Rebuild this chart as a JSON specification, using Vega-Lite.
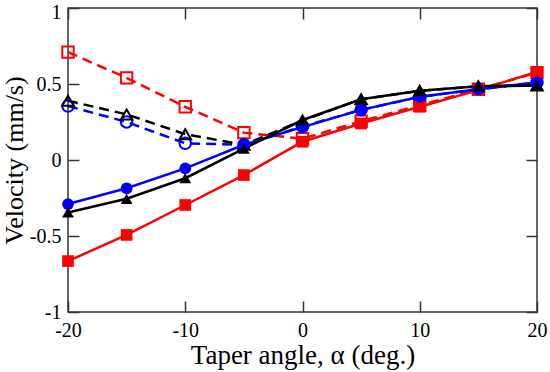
{
  "$schema": "https://vega.github.io/schema/vega-lite/v6.json",
  "width": 469,
  "height": 304,
  "autosize": "none",
  "padding": {"left": 68, "top": 8, "right": 13, "bottom": 60},
  "background": "white",
  "config": {
    "view": {"stroke": "#333", "strokeWidth": 1.5},
    "axis": {
      "labelFont": "Liberation Serif",
      "titleFont": "Liberation Serif",
      "labelColor": "black",
      "titleColor": "black",
      "titleFontWeight": "normal",
      "grid": false,
      "domain": false,
      "tickColor": "#333",
      "tickWidth": 1.5,
      "tickSize": -11,
      "labelFontSize": 20,
      "titleFontSize": 27,
      "labelFlush": false,
      "labelOverlap": false,
      "labelExpr": "datum.value + ''"
    }
  },
  "data": {
    "values": [
      {"a": -20, "v": 0.71, "s": "rd"},
      {"a": -15, "v": 0.54, "s": "rd"},
      {"a": -10, "v": 0.35, "s": "rd"},
      {"a": -5, "v": 0.18, "s": "rd"},
      {"a": 0, "v": 0.14, "s": "rd"},
      {"a": 5, "v": 0.255, "s": "rd"},
      {"a": 10, "v": 0.36, "s": "rd"},
      {"a": 15, "v": 0.465, "s": "rd"},
      {"a": 20, "v": 0.575, "s": "rd"},
      {"a": -20, "v": 0.355, "s": "bd"},
      {"a": -15, "v": 0.25, "s": "bd"},
      {"a": -10, "v": 0.11, "s": "bd"},
      {"a": -5, "v": 0.1, "s": "bd"},
      {"a": 0, "v": 0.22, "s": "bd"},
      {"a": 5, "v": 0.33, "s": "bd"},
      {"a": 10, "v": 0.415, "s": "bd"},
      {"a": 15, "v": 0.465, "s": "bd"},
      {"a": 20, "v": 0.51, "s": "bd"},
      {"a": -20, "v": 0.39, "s": "kd"},
      {"a": -15, "v": 0.3, "s": "kd"},
      {"a": -10, "v": 0.17, "s": "kd"},
      {"a": -5, "v": 0.1, "s": "kd"},
      {"a": 0, "v": 0.26, "s": "kd"},
      {"a": 5, "v": 0.4, "s": "kd"},
      {"a": 10, "v": 0.455, "s": "kd"},
      {"a": 15, "v": 0.485, "s": "kd"},
      {"a": 20, "v": 0.49, "s": "kd"},
      {"a": -20, "v": -0.665, "s": "r"},
      {"a": -15, "v": -0.493, "s": "r"},
      {"a": -10, "v": -0.296, "s": "r"},
      {"a": -5, "v": -0.099, "s": "r"},
      {"a": 0, "v": 0.12, "s": "r"},
      {"a": 5, "v": 0.24, "s": "r"},
      {"a": 10, "v": 0.35, "s": "r"},
      {"a": 15, "v": 0.46, "s": "r"},
      {"a": 20, "v": 0.58, "s": "r"},
      {"a": -20, "v": -0.29, "s": "b"},
      {"a": -15, "v": -0.186, "s": "b"},
      {"a": -10, "v": -0.055, "s": "b"},
      {"a": -5, "v": 0.1, "s": "b"},
      {"a": 0, "v": 0.216, "s": "b"},
      {"a": 5, "v": 0.33, "s": "b"},
      {"a": 10, "v": 0.416, "s": "b"},
      {"a": 15, "v": 0.465, "s": "b"},
      {"a": 20, "v": 0.51, "s": "b"},
      {"a": -20, "v": -0.345, "s": "k"},
      {"a": -15, "v": -0.255, "s": "k"},
      {"a": -10, "v": -0.12, "s": "k"},
      {"a": -5, "v": 0.075, "s": "k"},
      {"a": 0, "v": 0.263, "s": "k"},
      {"a": 5, "v": 0.4, "s": "k"},
      {"a": 10, "v": 0.455, "s": "k"},
      {"a": 15, "v": 0.485, "s": "k"},
      {"a": 20, "v": 0.49, "s": "k"}
    ]
  },
  "encoding": {
    "x": {"field": "a", "type": "quantitative"},
    "y": {"field": "v", "type": "quantitative"},
    "color": {
      "field": "s", "type": "nominal", "legend": null,
      "scale": {"domain": ["rd", "bd", "kd", "r", "b", "k"], "range": ["#ff0000", "#0000ff", "#000000", "#ff0000", "#0000ff", "#000000"]}
    }
  },
  "layer": [
    {
      "transform": [{"filter": "indexof(['rd','bd','kd'], datum.s) >= 0"}],
      "mark": {"type": "line", "strokeWidth": 2.5, "strokeDash": [10, 6]},
      "encoding": {
        "x": {"field": "a", "type": "quantitative", "scale": {"domain": [-20, 20], "nice": false, "zero": false},
          "axis": {"values": [-20, -10, 0, 10, 20], "title": "Taper angle, α (deg.)", "labelPadding": 19, "titlePadding": 2}},
        "y": {"field": "v", "type": "quantitative", "scale": {"domain": [-1, 1], "nice": false, "zero": false},
          "axis": {"values": [-1, -0.5, 0, 0.5, 1], "title": "Velocity (mm/s)", "labelPadding": 18, "titlePadding": 2, "titleFontSize": 26,
            "labelOffset": {"condition": {"test": "datum.value == 1", "value": 4}, "value": 0}}}
      }
    },
    {
      "transform": [{"filter": "indexof(['rd','bd','kd'], datum.s) >= 0"}],
      "mark": {"type": "point", "filled": false, "strokeWidth": 2, "opacity": 1},
      "encoding": {
        "x": {"field": "a", "type": "quantitative", "axis": {"orient": "top", "values": [-20, -10, 0, 10, 20], "labels": false, "title": null}},
        "y": {"field": "v", "type": "quantitative", "axis": {"orient": "right", "values": [-1, -0.5, 0, 0.5, 1], "labels": false, "title": null}},
        "shape": {"field": "s", "type": "nominal", "legend": null,
          "scale": {"domain": ["rd", "bd", "kd", "r", "b", "k"], "range": ["square", "circle", "triangle-up", "square", "circle", "triangle-up"]}},
        "size": {"field": "s", "type": "nominal", "legend": null,
          "scale": {"domain": ["rd", "bd", "kd", "r", "b", "k"], "range": [130, 140, 200, 140, 210, 300]}}
      }
    },
    {
      "transform": [{"filter": "indexof(['r','b','k'], datum.s) >= 0"}],
      "mark": {"type": "line", "strokeWidth": 2.5},
      "encoding": {
        "x": {"field": "a", "type": "quantitative", "axis": null},
        "y": {"field": "v", "type": "quantitative", "axis": null}
      }
    },
    {
      "transform": [{"filter": "indexof(['r','b','k'], datum.s) >= 0"}],
      "mark": {"type": "point", "filled": true, "opacity": 1},
      "encoding": {
        "x": {"field": "a", "type": "quantitative", "axis": null},
        "y": {"field": "v", "type": "quantitative", "axis": null},
        "shape": {"field": "s", "type": "nominal", "legend": null},
        "size": {"field": "s", "type": "nominal", "legend": null}
      }
    }
  ],
  "resolve": {"axis": {"x": "independent", "y": "independent"}}
}
